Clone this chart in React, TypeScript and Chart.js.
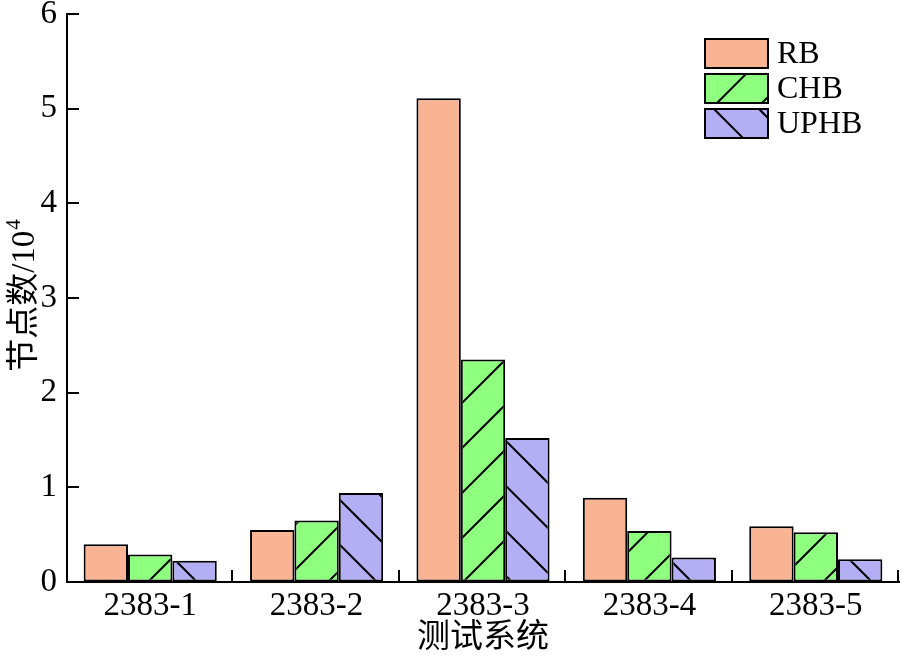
import React, { useEffect, useRef } from "react";
import { Chart, registerables } from "chart.js";

Chart.register(...registerables);

const categories = ["2383-1", "2383-2", "2383-3", "2383-4", "2383-5"];
const seriesNames = ["RB", "CHB", "UPHB"];
const rbValues = [0.4, 0.55, 5.11, 0.89, 0.59];
const chbValues = [0.29, 0.65, 2.35, 0.54, 0.525];
const uphbValues = [0.225, 0.94, 1.52, 0.26, 0.24];
const yTicks = [0, 1, 2, 3, 4, 5, 6];
const xTitle = "测试系统";
const yTitleMain = "节点数/10";
const yTitleSup = "4";

const FONT = "'Liberation Serif', 'Times New Roman', 'Noto Sans CJK SC', serif";
const colors = ["#F9B493", "#8FFF80", "#B4AEF5"];

// Tile a diagonal hatch: dir 1 draws "/", dir -1 draws "\"
function makeHatch(fill: string, dir: number, offset: number): CanvasPattern | string {
  const size = 45;
  const c = document.createElement("canvas");
  c.width = size;
  c.height = size;
  const g = c.getContext("2d");
  if (!g) return fill;
  g.fillStyle = fill;
  g.fillRect(0, 0, size, size);
  g.strokeStyle = "#000";
  g.lineWidth = 2;
  g.beginPath();
  for (let k = -2; k <= 2; k++) {
    const s = offset + k * size;
    if (dir > 0) {
      // x + y = s
      g.moveTo(s + size * 2, -size * 2);
      g.lineTo(s - size * 2, size * 2);
    } else {
      // x - y = s
      g.moveTo(s - size * 2, -size * 2);
      g.lineTo(s + size * 2, size * 2);
    }
  }
  g.stroke();
  const p = g.createPattern(c, "repeat");
  return p || fill;
}

const decorPlugin = {
  id: "decor",
  afterDraw(chart: any) {
    const { ctx, chartArea, scales } = chart;
    const ys = scales.y;
    ctx.save();
    ctx.strokeStyle = "#000";
    ctx.lineWidth = 2;
    // inward ticks on the value axis
    ctx.beginPath();
    for (const v of yTicks) {
      const y = Math.round(ys.getPixelForValue(v));
      ctx.moveTo(chartArea.left, y);
      ctx.lineTo(chartArea.left + 12, y);
    }
    // category separators on the base axis
    const step = (chartArea.right - chartArea.left) / categories.length;
    for (let i = 1; i <= categories.length; i++) {
      const x = Math.round(chartArea.left + i * step) - 1;
      ctx.moveTo(x, chartArea.bottom);
      ctx.lineTo(x, chartArea.bottom - 12);
    }
    ctx.stroke();

    // legend
    const lx = 705;
    const ly = 39;
    const bw = 63;
    const bh = 29;
    const gap = 35;
    chart.data.datasets.forEach((ds: any, i: number) => {
      const y = ly + i * gap;
      ctx.fillStyle = ds.backgroundColor;
      ctx.fillRect(lx, y, bw, bh);
      ctx.lineWidth = 2;
      ctx.strokeStyle = "#000";
      ctx.strokeRect(lx, y, bw, bh);
      ctx.fillStyle = "#000";
      ctx.font = `32px ${FONT}`;
      ctx.textAlign = "left";
      ctx.textBaseline = "middle";
      ctx.fillText(ds.label, lx + bw + 9, y + bh / 2 + 1);
    });

    // axis titles
    ctx.fillStyle = "#000";
    ctx.font = `33px ${FONT}`;
    ctx.textAlign = "center";
    ctx.textBaseline = "middle";
    ctx.fillText(xTitle, (chartArea.left + chartArea.right) / 2, 638);

    ctx.translate(25, 296);
    ctx.rotate(-Math.PI / 2);
    ctx.font = `33px ${FONT}`;
    const mainW = ctx.measureText(yTitleMain).width;
    ctx.font = `21px ${FONT}`;
    const supW = ctx.measureText(yTitleSup).width;
    const total = mainW + supW;
    ctx.textAlign = "left";
    ctx.font = `33px ${FONT}`;
    ctx.fillText(yTitleMain, -total / 2, 0);
    ctx.font = `21px ${FONT}`;
    ctx.fillText(yTitleSup, -total / 2 + mainW + 1, -11);
    ctx.restore();
  },
};

export default function App() {
  const ref = useRef<HTMLCanvasElement | null>(null);
  useEffect(() => {
    document.body.style.margin = "0";
    const canvas = ref.current;
    if (!canvas) return;
    const patterns = [
      colors[0],
      makeHatch(colors[1], 1, 10),
      makeHatch(colors[2], -1, 20),
    ];
    const values = [rbValues, chbValues, uphbValues];
    const chart = new Chart(canvas, {
      type: "bar",
      data: {
        labels: categories,
        datasets: seriesNames.map((name, i) => ({
          label: name,
          data: values[i],
          backgroundColor: patterns[i] as any,
          borderColor: "#000",
          borderWidth: 2,
          borderSkipped: false,
          categoryPercentage: 0.8,
          barPercentage: 1,
        })),
      },
      options: {
        responsive: false,
        animation: false,
        devicePixelRatio: 1,
        layout: { padding: { top: 14, right: 5, left: 0, bottom: 0 } },
        plugins: {
          legend: { display: false },
          tooltip: { enabled: false },
          title: { display: false },
        },
        scales: {
          x: {
            grid: { display: true, drawOnChartArea: false, drawTicks: false },
            border: { display: true, color: "#000", width: 2 },
            ticks: {
              color: "#000",
              font: { family: FONT, size: 33, lineHeight: 1 },
              padding: 8,
              maxRotation: 0,
            },
            afterFit: (s: any) => {
              s.height = 74;
              s.paddingLeft = 0;
              s.paddingRight = 0;
            },
          },
          y: {
            min: 0,
            max: 6,
            grid: { display: true, drawOnChartArea: false, drawTicks: false },
            border: { display: true, color: "#000", width: 2 },
            ticks: {
              stepSize: 1,
              color: "#000",
              font: { family: FONT, size: 33, lineHeight: 0.8 },
              padding: 10,
            },
            afterFit: (s: any) => {
              s.width = 67;
              s.paddingTop = 0;
              s.paddingBottom = 0;
            },
          },
        },
      },
      plugins: [decorPlugin],
    });
    return () => chart.destroy();
  }, []);
  return (
    <div style={{ width: 904, height: 656, background: "#fff" }}>
      <canvas ref={ref} width={904} height={656} style={{ display: "block" }} />
    </div>
  );
}
